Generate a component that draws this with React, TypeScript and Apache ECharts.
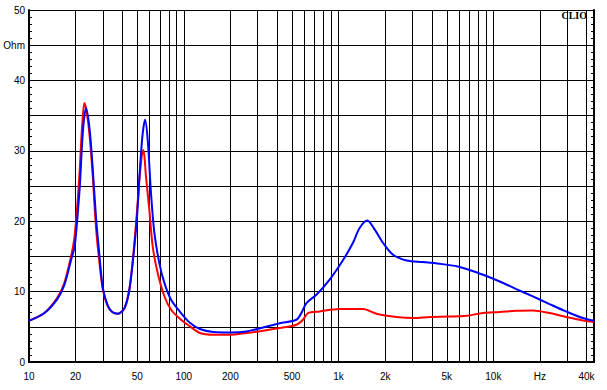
import React, { useEffect, useRef } from 'react';
import * as echarts from 'echarts';

// Impedance magnitude (Ohm) vs frequency (Hz)
const blueFreq = [10, 12.6, 15.3, 16.9, 18.7, 19.7, 20.4, 21.3, 21.9, 22.5, 23.35, 24.6, 25.8, 27.1, 28.5, 30, 32.3, 34.5, 37.5, 41.4, 44.5, 47.5, 49.9, 51.7, 54, 56.2, 58.5, 61.4, 64.6, 69.5, 75, 82.8, 96, 109, 127, 155, 200, 254, 325, 417, 534, 575, 620, 719, 878, 1070, 1237, 1365, 1534, 1713, 1940, 2250, 2750, 3510, 4500, 5900, 6700, 8580, 10990, 14070, 18000, 23050, 29500, 37800, 44700];
const blueOhm = [5.86, 6.95, 9.0, 10.9, 14.5, 16.4, 19.7, 25.0, 30.0, 33.8, 36.05, 33.2, 27.5, 20.5, 15.2, 10.5, 8.0, 7.1, 6.86, 7.66, 10.26, 15.5, 20.7, 26.3, 32.0, 34.4, 31.5, 24.0, 18.3, 14.05, 11.2, 8.84, 6.95, 5.6, 4.68, 4.26, 4.2, 4.34, 4.9, 5.5, 6.0, 6.95, 8.37, 9.55, 11.75, 14.5, 16.9, 19.0, 20.1, 18.8, 16.9, 15.23, 14.42, 14.2, 13.95, 13.57, 13.2, 12.39, 11.44, 10.36, 9.31, 8.23, 7.18, 6.24, 5.86];
const redFreq = [10, 12.6, 15.3, 16.9, 18.7, 19.6, 20.3, 21.1, 21.7, 22.2, 22.8, 23.6, 24.6, 25.8, 27.0, 28.3, 30, 32.3, 34.5, 37.5, 41.4, 44.5, 47.3, 49.7, 51.7, 53.5, 54.9, 57, 59.9, 63, 67.9, 75, 82.8, 96, 109, 127, 155, 200, 254, 325, 417, 534, 589, 635, 755, 1015, 1440, 1760, 2370, 3035, 3890, 5220, 6700, 8580, 10990, 14070, 18000, 23050, 29500, 37800, 44700];
const redOhm = [5.86, 7.0, 9.2, 11.2, 15.0, 17.5, 21.0, 26.0, 31.0, 34.5, 36.8, 35.5, 32.3, 26.5, 19.5, 14.8, 10.3, 7.9, 7.1, 6.86, 7.66, 10.3, 15.5, 21.0, 26.0, 29.2, 30.1, 26.3, 21.6, 16.4, 12.6, 9.3, 7.42, 6.0, 5.1, 4.12, 3.87, 3.87, 4.12, 4.44, 4.83, 5.3, 6.0, 6.95, 7.18, 7.52, 7.52, 6.86, 6.39, 6.24, 6.39, 6.45, 6.57, 6.95, 7.1, 7.28, 7.32, 6.95, 6.39, 5.9, 5.68];

const gridFreqs = [20, 30, 40, 50, 60, 70, 80, 90, 100, 200, 300, 400, 500, 600, 700, 800, 900, 1000, 2000, 3000, 4000, 5000, 6000, 7000, 8000, 9000, 10000, 20000, 30000, 40000];
const labelFreqs = [10, 20, 50, 100, 200, 500, 1000, 2000, 5000, 10000, 20000, 40000];
const labelTexts = ['10', '20', '50', '100', '200', '500', '1k', '2k', '5k', '10k', 'Hz', '40k'];
const yLabelValues = [0, 10, 20, 30, 40, 45, 50];
const yLabelTexts = ['0', '10', '20', '30', '40', 'Ohm', '50'];
const freqMin = 10;
const freqMax = 44700;
const ohmMin = 0;
const ohmMax = 50;

const FONT = "'Liberation Sans', Arial, sans-serif";

export default function App() {
  const ref = useRef<HTMLDivElement>(null);
  useEffect(() => {
    if (!ref.current) return;
    const chart = echarts.init(ref.current, undefined, { renderer: 'svg' });
    const lg = (f: number) => Math.log10(f);
    const xMin = lg(freqMin);
    const xMax = lg(freqMax);
    const xLabel = (v: number) => {
      const i = labelFreqs.findIndex((f) => Math.abs(lg(f) - v) < 1e-6);
      return i >= 0 ? labelTexts[i] : '';
    };
    const yLabel = (v: number) => {
      const i = yLabelValues.findIndex((y) => Math.abs(y - v) < 1e-6);
      return i >= 0 ? yLabelTexts[i] : '';
    };
    const black = '#000000';
    chart.setOption({
      animation: false,
      backgroundColor: '#ffffff',
      grid: { left: 29, right: 13, top: 10, bottom: 28, containLabel: false },
      xAxis: [
        {
          type: 'value',
          min: xMin,
          max: xMax,
          axisLine: { show: true, lineStyle: { color: black, width: 2 } },
          axisTick: { show: false, customValues: gridFreqs.map(lg) },
          axisLabel: {
            customValues: labelFreqs.map(lg),
            formatter: xLabel,
            color: black,
            fontSize: 10,
            fontFamily: FONT,
            margin: 9,
          },
          splitLine: { show: true, lineStyle: { color: black, width: 1 } },
        },
        {
          type: 'value',
          position: 'top',
          min: xMin,
          max: xMax,
          axisLine: { show: true, lineStyle: { color: black, width: 2 } },
          axisTick: { show: false },
          axisLabel: { show: false },
          splitLine: { show: false },
        },
      ],
      yAxis: [
        {
          type: 'value',
          min: ohmMin,
          max: ohmMax,
          interval: 5,
          axisLine: { show: true, lineStyle: { color: black, width: 2 } },
          axisTick: { show: true, inside: true, length: 3, lineStyle: { color: black } },
          minorTick: { show: true, splitNumber: 5, length: 3, lineStyle: { color: black } },
          axisLabel: { formatter: yLabel, color: black, fontSize: 10, fontFamily: FONT, margin: 4 },
          splitLine: { show: true, lineStyle: { color: black, width: 1 } },
        },
        {
          type: 'value',
          position: 'right',
          min: ohmMin,
          max: ohmMax,
          interval: 5,
          axisLine: { show: true, lineStyle: { color: black, width: 2 } },
          axisTick: { show: true, inside: true, length: 3, lineStyle: { color: black } },
          minorTick: { show: true, splitNumber: 5, length: 3, lineStyle: { color: black } },
          axisLabel: { show: false },
          splitLine: { show: false },
        },
      ],
      graphic: [
        {
          type: 'text',
          x: 587,
          y: 15,
          style: {
            text: 'CLIO',
            align: 'right',
            verticalAlign: 'middle',
            fontSize: 10,
            fontWeight: 'bold',
            fontFamily: "'Liberation Serif', 'Times New Roman', serif",
            fill: black,
          },
          z: 100,
        },
      ],
      series: [
        {
          name: 'red',
          type: 'line',
          data: redFreq.map((f, i) => [lg(f), redOhm[i]]),
          showSymbol: false,
          smooth: 0.3,
          color: '#ff0000',
          lineStyle: { color: '#ff0000', width: 2 },
          z: 3,
        },
        {
          name: 'blue',
          type: 'line',
          data: blueFreq.map((f, i) => [lg(f), blueOhm[i]]),
          showSymbol: false,
          smooth: 0.3,
          color: '#0000ff',
          lineStyle: { color: '#0000ff', width: 2 },
          z: 4,
        },
      ],
    });
    return () => chart.dispose();
  }, []);
  return (
    <div
      ref={ref}
      style={{ position: 'fixed', left: 0, top: 0, width: 607, height: 390, background: '#fff' }}
    />
  );
}
